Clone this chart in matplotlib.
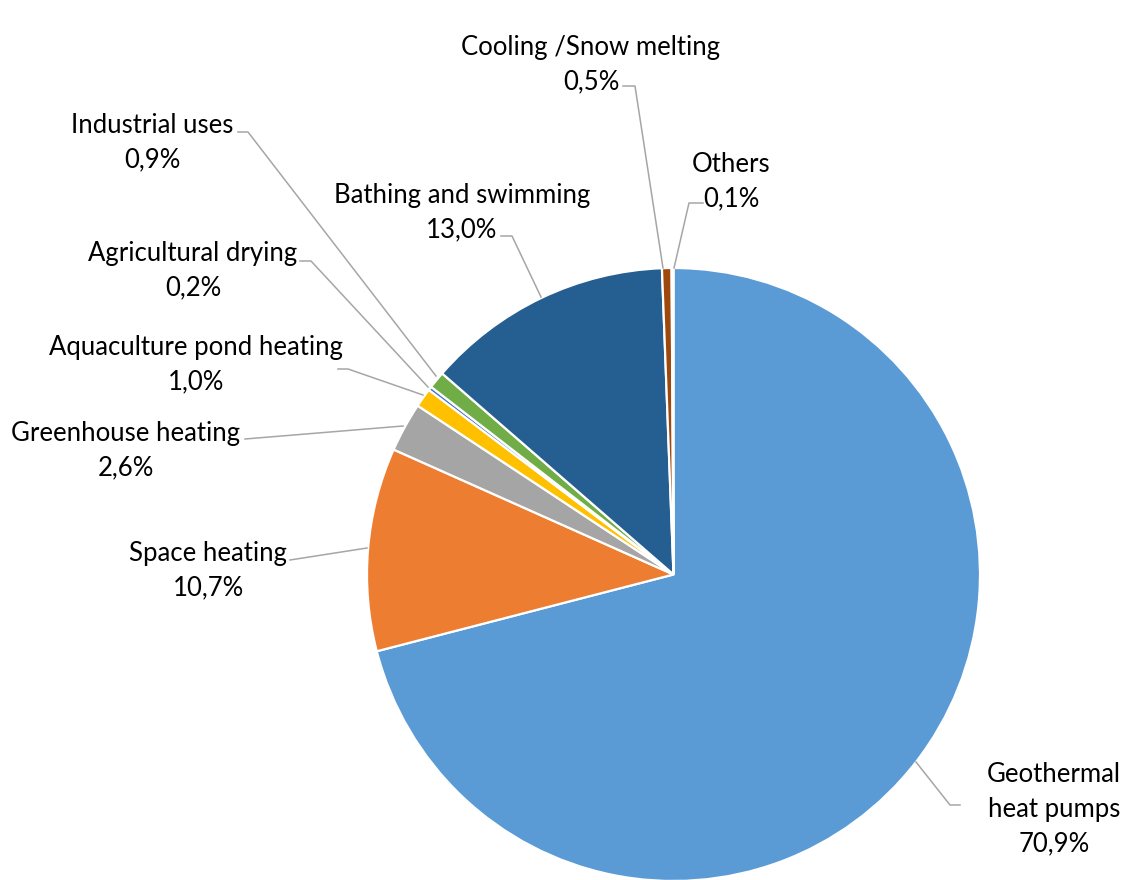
import matplotlib.pyplot as plt

# Geothermal direct use by category, share of total (%)
categories = ['Geothermal\nheat pumps', 'Space heating', 'Greenhouse heating',
              'Aquaculture pond heating', 'Agricultural drying', 'Industrial uses',
              'Bathing and swimming', 'Cooling /Snow melting', 'Others']
shares = [70.9, 10.7, 2.6, 1.0, 0.2, 0.9, 13.0, 0.5, 0.1]
colors = ['#5B9BD5', '#ED7D31', '#A5A5A5', '#FFC000', '#4472C4',
          '#70AD47', '#255E91', '#9E480E', '#636363']

W, H = 1127, 880
fig = plt.figure(figsize=(W / 100, H / 100), dpi=100)
ax = fig.add_axes([0, 0, 1, 1])

cx, cy, r = 673.5, H - 574.5, 306.5
ax.pie(shares, colors=colors, startangle=90, counterclock=False,
       center=(cx, cy), radius=r, frame=True,
       wedgeprops=dict(edgecolor='white', linewidth=1.6))
ax.set_xlim(0, W)
ax.set_ylim(0, H)
ax.set_aspect('equal')
ax.axis('off')

# label block centres and leader polylines, in pixel coordinates (y down)
label_pos = [(1054, 809), (208, 571), (126, 451), (196, 365), (193, 271),
             (152, 143), (462, 213), (591, 65), (731, 182)]
leaders = [
    [(960, 805), (950, 805), (916, 762)],
    [(290, 560), (367, 548)],
    [(245, 439), (403, 426)],
    [(338, 369), (348, 369), (423, 395)],
    [(300, 261), (311, 261), (428, 387)],
    [(238, 132), (248, 132), (436, 376)],
    [(501, 236), (512, 236), (541, 297)],
    [(623, 86), (635, 86), (663, 268)],
    [(703, 203), (689, 203), (674, 268)],
]

for name, val, (x, y), pts in zip(categories, shares, label_pos, leaders):
    txt = f'{name}\n{val:.1f}%'.replace('.', ',')
    ax.text(x, H - y, txt, ha='center', va='center', fontsize=18.5,
            family='Lato', linespacing=1.47, color='#000000')
    xs = [p[0] for p in pts]
    ys = [H - p[1] for p in pts]
    ax.plot(xs, ys, color='#A6A6A6', linewidth=1.1)

fig.savefig('out.png', dpi=100)
